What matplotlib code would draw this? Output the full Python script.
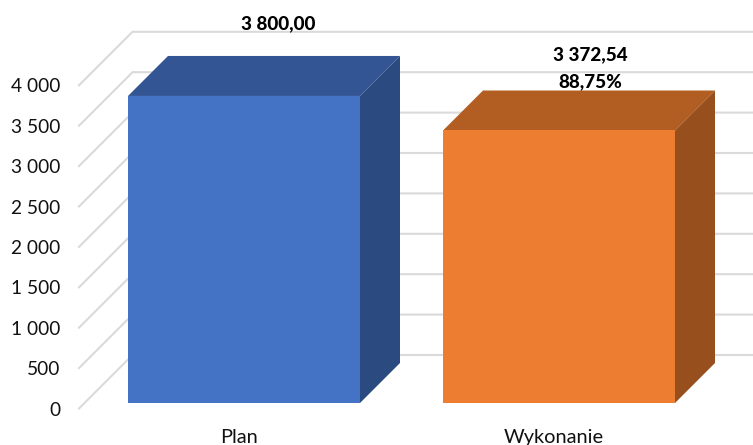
import matplotlib
matplotlib.use("Agg")
import matplotlib.pyplot as plt
from matplotlib.patches import Polygon
from matplotlib.lines import Line2D
from matplotlib.transforms import IdentityTransform

categories = ["Plan", "Wykonanie"]
values = [3800.00, 3372.54]
value_labels = ["3 800,00", "3 372,54"]
percent_label = "88,75%"
y_ticks = [0, 500, 1000, 1500, 2000, 2500, 3000, 3500, 4000]
y_tick_labels = ["0", "500", "1 000", "1 500", "2 000", "2 500", "3 000", "3 500", "4 000"]

front_colors = ["#4472C4", "#ED7D31"]
top_colors = ["#335593", "#B25E23"]
side_colors = ["#2A4A80", "#974F1D"]
GRID = "#DADADA"

W, H = 753, 445
plt.rcParams["font.family"] = ["Lato", "DejaVu Sans"]
fig = plt.figure(figsize=(W / 100, H / 100), dpi=100, facecolor="white")
ax = fig.add_axes([79 / W, (H - 408.5) / H, (W - 79) / W, 323.2 / H])
ax.set_xlim((79 - 238.5) / 315, (W - 238.5) / 315)
ax.set_ylim(0, 4000)
for s in ax.spines.values():
    s.set_visible(False)
ax.patch.set_visible(False)

ax.set_yticks(y_ticks, y_tick_labels)
ax.set_xticks(range(len(categories)), categories)
ax.tick_params(axis="y", length=0, pad=13.5, labelsize=13.8, colors="#111111")
ax.tick_params(axis="x", length=0, pad=14.5, labelsize=14.4, colors="#111111")

identity = IdentityTransform()
DEPTH_ALL = 53.5
D0, D1 = 5.5, 45.5
BAR_W = 232 / 315


def pt(x, v, d=0.0):
    px, py = ax.transData.transform((x, v))
    return (px + d, py + d)


# Back wall grid lines
x_min, x_max = ax.get_xlim()
for t in y_ticks:
    a = pt(x_min, t)
    b = pt(x_min, t, DEPTH_ALL)
    c = (W, b[1])
    fig.add_artist(Line2D([a[0], b[0], c[0]], [a[1], b[1], c[1]], color=GRID, lw=1.5,
                          transform=identity, zorder=1, solid_joinstyle="miter"))

# Bars
for i, v in enumerate(values):
    x0, x1 = i - BAR_W / 2, i + BAR_W / 2
    front = [pt(x0, 0, D0), pt(x1, 0, D0), pt(x1, v, D0), pt(x0, v, D0)]
    top = [pt(x0, v, D0), pt(x1, v, D0), pt(x1, v, D1), pt(x0, v, D1)]
    side = [pt(x1, 0, D0), pt(x1, 0, D1), pt(x1, v, D1), pt(x1, v, D0)]
    for verts, col in ((top, top_colors[i]), (side, side_colors[i]), (front, front_colors[i])):
        fig.add_artist(Polygon(verts, closed=True, facecolor=col, edgecolor="none",
                               transform=identity, zorder=2))

# Data labels
label_kw = dict(textcoords="offset pixels", ha="center", va="center", fontsize=13.6,
                fontweight=900, color="black", zorder=5, annotation_clip=False)
ax.set_zorder(3)
ax.annotate(value_labels[0], xy=(0, values[0]), xytext=(39.5, 77.5), **label_kw)
ax.annotate(value_labels[1], xy=(1, values[1]), xytext=(36.5, 81), **label_kw)
ax.annotate(percent_label, xy=(1, values[1]), xytext=(36.5, 54), **label_kw)

fig.savefig("out.png", dpi=100, facecolor="white")
